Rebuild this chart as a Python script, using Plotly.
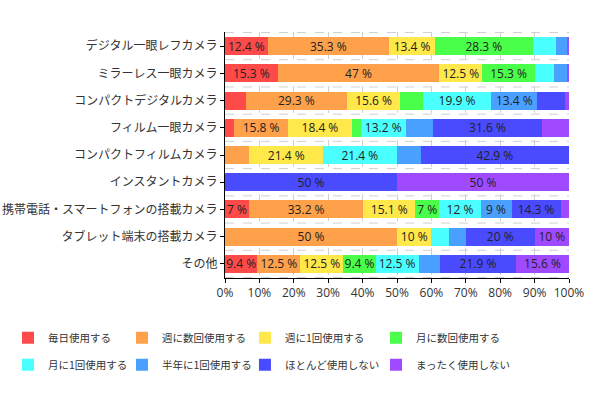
import plotly.graph_objects as go

categories = [
    "デジタル一眼レフカメラ",
    "ミラーレス一眼カメラ",
    "コンパクトデジタルカメラ",
    "フィルム一眼カメラ",
    "コンパクトフィルムカメラ",
    "インスタントカメラ",
    "携帯電話・スマートフォンの搭載カメラ",
    "タブレット端末の搭載カメラ",
    "その他",
]

series_names = [
    "毎日使用する", "週に数回使用する", "週に1回使用する", "月に数回使用する",
    "月に1回使用する", "半年に1回使用する", "ほとんど使用しない", "まったく使用しない",
]

daily        = [12.4, 15.3, 6.1, 2.6, 0, 0, 7, 0, 9.4]
weekly_many  = [35.3, 47, 29.3, 15.8, 7.1, 0, 33.2, 50, 12.5]
weekly_once  = [13.4, 12.5, 15.6, 18.4, 21.4, 0, 15.1, 10, 12.5]
monthly_many = [28.3, 15.3, 6.5, 2.6, 0, 0, 7, 0, 9.4]
monthly_once = [6.7, 5.6, 19.9, 13.2, 21.4, 0, 12, 5, 12.5]
half_year    = [3.2, 3.6, 13.4, 7.9, 7.1, 0, 9, 5, 6.3]
rarely       = [0, 0, 7.9, 31.6, 42.9, 50, 14.3, 20, 21.9]
never        = [0.7, 0.7, 1.3, 7.9, 0, 50, 2.4, 10, 15.6]

series_values = [daily, weekly_many, weekly_once, monthly_many,
                 monthly_once, half_year, rarely, never]

colors = ["#FF4A4A", "#FFA04A", "#FFE84A", "#4AFF4A",
          "#4AFFFF", "#4AA0FF", "#4A4AFF", "#A04AFF"]

x_ticks = list(range(0, 101, 10))

PX_PER_PCT = 3.44


def label_width(s):
    w = 0
    for ch in s:
        if ch.isdigit():
            w += 6.7
        elif ch == "%":
            w += 10.7
        else:
            w += 3.3
    return w


def make_labels(vals):
    out = []
    for v in vals:
        s = f"{v:g} %"
        out.append(s if v > 0 and label_width(s) <= v * PX_PER_PCT else "")
    return out


num_font = "Open Sans, Noto Sans CJK JP, sans-serif"
cjk_font = "Noto Sans CJK JP, Open Sans, sans-serif"

fig = go.Figure()
legend_ids = ["legend", "legend2", "legend3", "legend4"]
for i, (name, vals, col) in enumerate(zip(series_names, series_values, colors)):
    fig.add_trace(go.Bar(
        y=categories, x=vals, name=name, orientation="h",
        marker=dict(color=col, line=dict(width=0)),
        text=make_labels(vals), textposition="inside",
        insidetextanchor="middle", textangle=0,
        textfont=dict(size=12, color="#222222", family=num_font),
        legend=legend_ids[i % 4], legendgroup=name,
        hoverinfo="skip",
    ))

# horizontal dashed gridlines between categories
for k in range(len(categories) + 1):
    fig.add_shape(type="line", xref="paper", yref="y",
                  x0=0, x1=1, y0=k - 0.5, y1=k - 0.5,
                  line=dict(color="#d0d0d0", width=1, dash="dash"),
                  layer="below")

leg_common = dict(orientation="v", yanchor="top", xanchor="left",
                  font=dict(size=10.5, color="#333333", family=cjk_font),
                  bgcolor="rgba(0,0,0,0)", tracegroupgap=8,
                  traceorder="grouped", itemclick=False, itemdoubleclick=False)
leg_x = [-0.2994, 0.058, 0.439]
leg_y = -0.1835
W, H = 598, 398
M = dict(l=225, r=29, t=32, b=120)
# first legend sits at the far left edge: position it in container coords
leg1_x = 8 / W
leg1_y = 1 - (M["t"] + (H - M["t"] - M["b"]) * (1 - leg_y)) / H

fig.update_layout(
    width=W, height=H,
    margin=M,
    paper_bgcolor="white", plot_bgcolor="white",
    barmode="stack", bargap=0.34,
    font=dict(family=cjk_font, size=12, color="#333333"),
    showlegend=True,
    legend=dict(x=leg1_x, y=leg1_y, xref="container", yref="container", **leg_common),
    legend2=dict(x=leg_x[0], y=leg_y, **leg_common),
    legend3=dict(x=leg_x[1], y=leg_y, **leg_common),
    legend4=dict(x=leg_x[2], y=leg_y, **leg_common),
    xaxis=dict(range=[0, 100], tickvals=x_ticks,
               ticktext=[f"{t}%" for t in x_ticks],
               showline=True, linecolor="#000000", linewidth=1,
               ticks="outside", ticklen=4, tickcolor="#000000",
               showgrid=True, gridcolor="#d0d0d0", griddash="dash",
               zeroline=False,
               tickfont=dict(size=12, color="#333333", family=num_font),
               automargin=False, fixedrange=True),
    yaxis=dict(autorange="reversed", showline=True, linecolor="#000000",
               linewidth=1, ticks="outside", ticklen=4, tickcolor="#000000",
               showgrid=False,
               tickfont=dict(size=12, color="#333333", family=cjk_font),
               automargin=False, fixedrange=True),
    uniformtext=dict(minsize=9, mode="show"),
)

# remove the default page margin so the figure sits at the window's corner
fig.write_html("out.html", config={"displayModeBar": False},
               post_script="document.body.style.margin='0px';")
